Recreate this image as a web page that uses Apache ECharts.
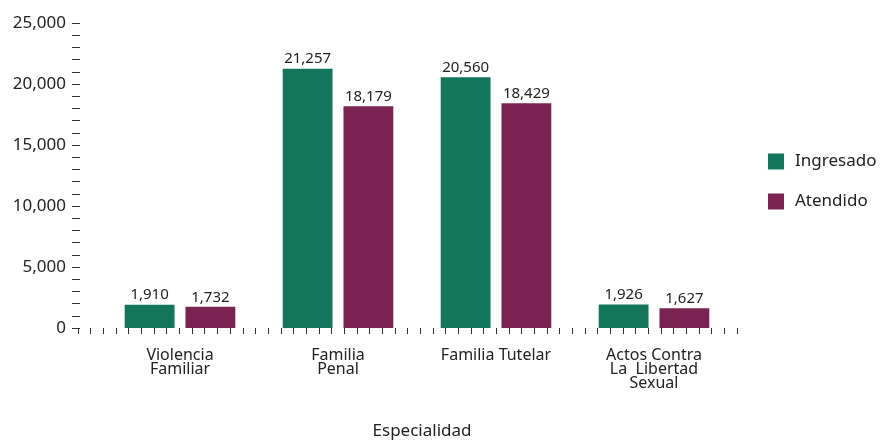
<!DOCTYPE html>
<html>
<head>
<meta charset="utf-8">
<script src="https://cdn.jsdelivr.net/npm/echarts@6/dist/echarts.min.js"></script>
<style>
  html, body { margin: 0; padding: 0; background: #fff; }
  #chart { width: 882px; height: 441px; }
</style>
</head>
<body>
<div id="chart"></div>
<script>
    'use strict';

    var categories = ['Violencia\nFamiliar', 'Familia\nPenal', 'Familia Tutelar', 'Actos Contra\nLa  Libertad\nSexual'];
    var ingresado = [1910, 21257, 20560, 1926];
    var atendido = [1732, 18179, 18429, 1627];
    var seriesNames = ['Ingresado', 'Atendido'];
    var colors = ['#13755b', '#7a2351'];

    var FONT = '"Noto Sans", "Open Sans", sans-serif';

    var chart = echarts.init(document.getElementById('chart'));

    var labelStyle = {
        show: true,
        position: 'top',
        distance: 2,
        color: '#222',
        fontFamily: FONT,
        fontSize: 15,
        formatter: function (p) {
            return p.value.toLocaleString('en-US');
        }
    };

    chart.setOption({
        animation: false,
        textStyle: { fontFamily: FONT },
        color: colors,
        legend: {
            orient: 'vertical',
            left: 763,
            top: 148,
            itemWidth: 16,
            itemHeight: 16,
            itemGap: 23,
            icon: 'rect',
            textStyle: { color: '#222', fontSize: 17, fontFamily: FONT, padding: [0, 0, 0, 6] },
            data: seriesNames
        },
        grid: [
            { left: 101, right: 149, top: 23, bottom: 113, outerBoundsMode: 'none' },
            // grid holding only the little x ticks
            { left: 78, right: 145, top: 23, bottom: 113, outerBoundsMode: 'none' }
        ],
        xAxis: [
            {
                type: 'category',
                gridIndex: 0,
                data: categories,
                axisLine: { show: false },
                axisTick: { show: false },
                axisLabel: {
                    color: '#222',
                    fontSize: 16,
                    lineHeight: 14,
                    margin: 20,
                    interval: 0,
                    fontFamily: FONT
                },
                name: 'Especialidad',
                nameLocation: 'middle',
                nameGap: 95,
                nameTextStyle: { color: '#222', fontSize: 17, fontFamily: FONT, padding: [0, 0, 0, 10] }
            },
            {
                type: 'value',
                gridIndex: 1,
                min: 0,
                max: 52,
                interval: 1,
                axisLine: { show: false },
                axisTick: { show: true, length: 6, lineStyle: { color: '#333', width: 1 } },
                axisLabel: { show: false },
                splitLine: { show: false }
            }
        ],
        yAxis: [
            {
                type: 'value',
                gridIndex: 0,
                min: 0,
                max: 25000,
                interval: 5000,
                offset: 21,
                axisLine: { show: false },
                axisTick: { show: true, length: 8, lineStyle: { color: '#333' } },
                minorTick: { show: true, splitNumber: 5, length: 8, lineStyle: { color: '#333' } },
                splitLine: { show: false },
                axisLabel: {
                    color: '#222',
                    fontSize: 17,
                    margin: 14,
                    fontFamily: FONT,
                    formatter: function (v) { return v.toLocaleString('en-US'); }
                }
            },
            {
                type: 'value',
                gridIndex: 1,
                show: false
            }
        ],
        series: [
            {
                name: seriesNames[0],
                type: 'bar',
                data: ingresado,
                barCategoryGap: '30%',
                barGap: '22%',
                label: labelStyle
            },
            {
                name: seriesNames[1],
                type: 'bar',
                data: atendido,
                barCategoryGap: '30%',
                barGap: '22%',
                label: labelStyle
            }
        ]
    });
</script>
</body>
</html>
